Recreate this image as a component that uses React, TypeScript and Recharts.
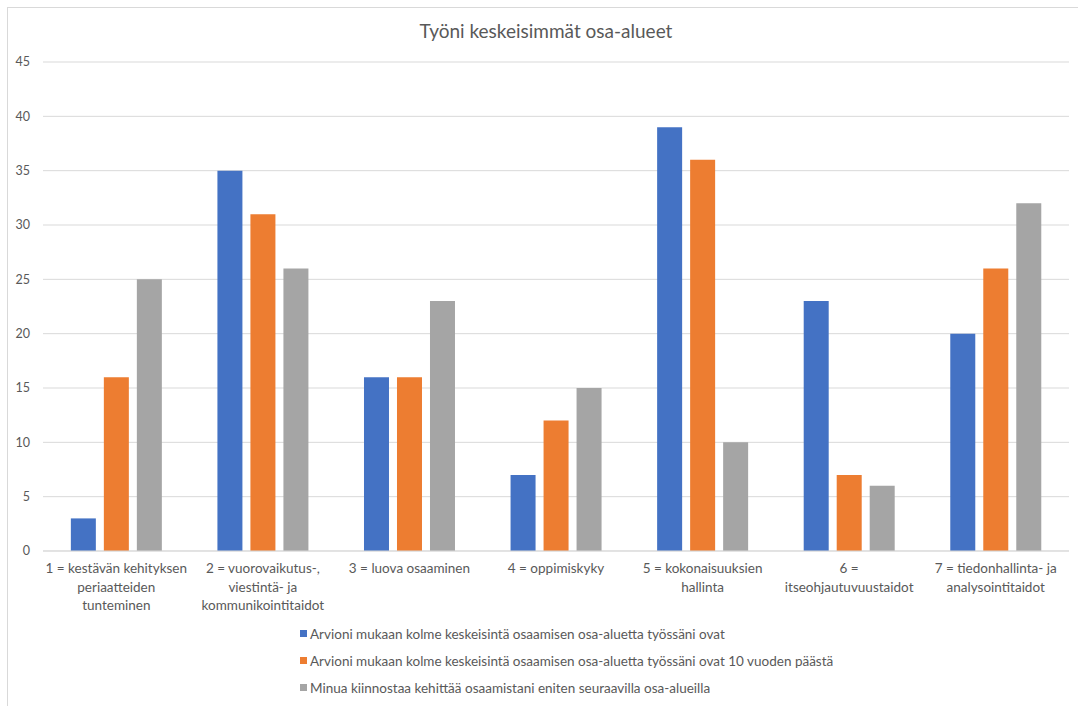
import React from 'react';
import { BarChart, Bar, XAxis, YAxis, CartesianGrid, Legend } from 'recharts';

const categories = [
  ['1 = kestävän kehityksen', 'periaatteiden', 'tunteminen'],
  ['2 = vuorovaikutus-,', 'viestintä- ja', 'kommunikointitaidot'],
  ['3 = luova osaaminen'],
  ['4 = oppimiskyky'],
  ['5 = kokonaisuuksien', 'hallinta'],
  ['6 =', 'itseohjautuvuustaidot'],
  ['7 = tiedonhallinta- ja', 'analysointitaidot'],
];

const seriesNames = [
  'Arvioni mukaan kolme keskeisintä osaamisen osa-aluetta työssäni ovat',
  'Arvioni mukaan kolme keskeisintä osaamisen osa-aluetta työssäni ovat 10 vuoden päästä',
  'Minua kiinnostaa kehittää osaamistani eniten seuraavilla osa-alueilla',
];

const nyt = [3, 35, 16, 7, 39, 23, 20];
const kymmenenVuotta = [16, 31, 16, 12, 36, 7, 26];
const kiinnostus = [25, 26, 23, 15, 10, 6, 32];

const yTicks = [0, 5, 10, 15, 20, 25, 30, 35, 40, 45];

const COLORS = ['#4472C4', '#ED7D31', '#A5A5A5'];
const FONT = 'Lato, "Noto Sans", sans-serif';
const TEXT = '#595959';

const data = categories.map((c, i) => ({
  name: c.join(' '),
  a: nyt[i],
  b: kymmenenVuotta[i],
  c: kiinnostus[i],
}));

const CategoryTick = (props: any) => {
  const { x, y, payload } = props;
  const lines: string[] = categories[payload.index] || [payload.value];
  return (
    <text x={x} y={y} textAnchor="middle" fill={TEXT} fontSize={13.5} fontFamily={FONT}>
      {lines.map((l, i) => (
        <tspan key={i} x={x} dy={i === 0 ? 14 : 18.5}>{l}</tspan>
      ))}
    </text>
  );
};

const LegendList = () => (
  <div style={{ fontFamily: FONT, fontSize: 13.5, color: TEXT }}>
    {seriesNames.map((n, i) => (
      <div key={n} style={{ display: 'flex', alignItems: 'center', height: 27 }}>
        <span style={{ width: 7, height: 7, background: COLORS[i], marginRight: 3, display: 'inline-block' }} />
        <span>{n}</span>
      </div>
    ))}
  </div>
);

export default function App() {
  return (
    <div style={{ position: 'absolute', left: 0, top: 0, width: 1078, height: 706, overflow: 'hidden', background: '#fff' }}>
      <div style={{ position: 'absolute', left: 7, top: 7, width: 1090, height: 720, border: '1px solid #d9d9d9' }} />
      <div style={{ position: 'absolute', left: 0, top: 0 }}>
        <BarChart
          width={1078}
          height={706}
          data={data}
          margin={{ top: 62, right: 9, left: 0, bottom: 95 }}
          barCategoryGap="19%"
          barGap={8}
        >
          <text x={546} y={38} textAnchor="middle" fill={TEXT} fontSize={19} fontFamily={FONT}>
            Työni keskeisimmät osa-alueet
          </text>
          <CartesianGrid vertical={false} stroke="#d9d9d9" />
          <XAxis
            dataKey="name"
            interval={0}
            axisLine={{ stroke: '#d9d9d9' }}
            tickLine={false}
            height={60}
            tick={<CategoryTick />}
          />
          <YAxis
            width={43}
            domain={[0, 45]}
            ticks={yTicks}
            axisLine={false}
            tickLine={false}
            tickSize={0}
            tickMargin={13}
            tick={{ fill: TEXT, fontSize: 12.5, fontFamily: FONT }}
          />
          <Legend
            layout="vertical"
            verticalAlign="middle"
            align="center"
            wrapperStyle={{ left: 300, top: 620, width: 640 }}
            content={<LegendList />}
          />
          <Bar dataKey="a" name={seriesNames[0]} fill={COLORS[0]} isAnimationActive={false} />
          <Bar dataKey="b" name={seriesNames[1]} fill={COLORS[1]} isAnimationActive={false} />
          <Bar dataKey="c" name={seriesNames[2]} fill={COLORS[2]} isAnimationActive={false} />
        </BarChart>
      </div>
    </div>
  );
}
